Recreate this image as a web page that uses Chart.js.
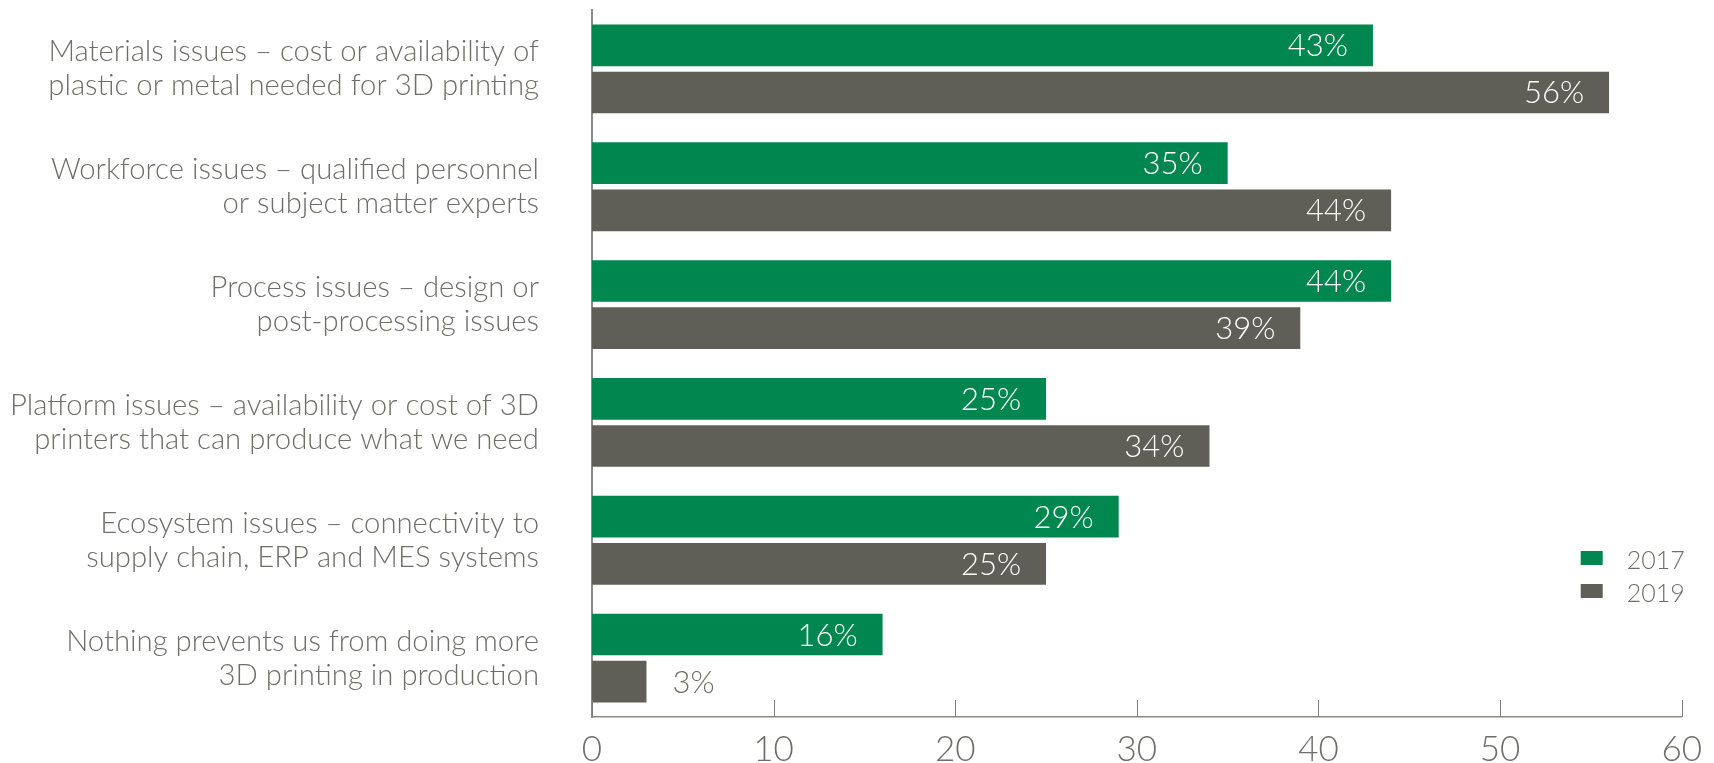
<!DOCTYPE html>
<html>
<head>
<meta charset="utf-8">
<script src="https://cdn.jsdelivr.net/npm/chart.js@4.4.1/dist/chart.umd.min.js"></script>
<style>
  html, body { margin: 0; padding: 0; background: #fff; }
  #wrap { width: 1714px; height: 763px; position: relative; }
</style>
</head>
<body>
<div id="wrap"><canvas id="chart"></canvas></div>
<script>
// Barriers to more 3D printing in production, share of respondents
var categories = [
  ["Materials issues – cost or availability of", "plastic or metal needed for 3D printing"],
  ["Workforce issues – qualified personnel", "or subject matter experts"],
  ["Process issues – design or", "post-processing issues"],
  ["Platform issues – availability or cost of 3D", "printers that can produce what we need"],
  ["Ecosystem issues – connectivity to", "supply chain, ERP and MES systems"],
  ["Nothing prevents us from doing more", "3D printing in production"]
];
var seriesNames = ["2017", "2019"];
var values2017 = [43, 35, 44, 25, 29, 16];
var values2019 = [56, 44, 39, 34, 25, 3];
var xTickValues = [0, 10, 20, 30, 40, 50, 60];

var GREEN = "#00874f";
var GREY = "#5f5f58";
var TEXT = "#6e6e6b";
var AXIS = "#8a8a86";
var FONT = "Lato, 'Open Sans', sans-serif";

// short tick marks pointing up from the bottom axis
var upTicks = {
  id: "upTicks",
  afterDraw: function(chart) {
    var ctx = chart.ctx, x = chart.scales.x, bottom = chart.chartArea.bottom;
    ctx.save();
    ctx.strokeStyle = "#7c7c78";
    ctx.lineWidth = 1;
    xTickValues.forEach(function(v) {
      var px = Math.round(x.getPixelForValue(v)) + 0.5;
      ctx.beginPath();
      ctx.moveTo(px, bottom);
      ctx.lineTo(px, bottom - 17);
      ctx.stroke();
    });
    ctx.restore();
  }
};

// percentage labels at the end of each bar
var valueLabels = {
  id: "valueLabels",
  afterDatasetsDraw: function(chart) {
    var ctx = chart.ctx;
    ctx.save();
    ctx.font = "300 31px " + FONT;
    ctx.textBaseline = "middle";
    chart.data.datasets.forEach(function(ds, i) {
      chart.getDatasetMeta(i).data.forEach(function(bar, j) {
        var txt = ds.data[j] + "%";
        var w = ctx.measureText(txt).width;
        if (bar.x - bar.base > w + 40) {
          ctx.fillStyle = "#ffffff";
          ctx.textAlign = "right";
          ctx.fillText(txt, bar.x - 25, bar.y + 1);
        } else {
          ctx.fillStyle = TEXT;
          ctx.textAlign = "left";
          ctx.fillText(txt, bar.x + 26, bar.y + 1);
        }
      });
    });
    ctx.restore();
  }
};

// legend in the lower right corner of the plot
var cornerLegend = {
  id: "cornerLegend",
  afterDraw: function(chart) {
    var ctx = chart.ctx, area = chart.chartArea;
    ctx.save();
    ctx.font = "300 25px " + FONT;
    ctx.textBaseline = "middle";
    ctx.textAlign = "left";
    chart.data.datasets.forEach(function(ds, i) {
      var cy = area.bottom - 159 + i * 33;
      ctx.fillStyle = ds.backgroundColor;
      ctx.fillRect(area.right - 101, cy - 7, 22, 14);
      ctx.fillStyle = TEXT;
      ctx.fillText(ds.label, area.right - 55, cy + 3);
    });
    ctx.restore();
  }
};

new Chart(document.getElementById("chart"), {
  type: "bar",
  data: {
    labels: categories,
    datasets: [
      { label: seriesNames[0], data: values2017, backgroundColor: GREEN },
      { label: seriesNames[1], data: values2019, backgroundColor: GREY }
    ]
  },
  options: {
    indexAxis: "y",
    responsive: true,
    maintainAspectRatio: false,
    animation: false,
    layout: { padding: { top: 10, right: 27, bottom: 0, left: 0 } },
    datasets: {
      bar: { categoryPercentage: 0.8, barPercentage: 0.883 }
    },
    plugins: {
      legend: { display: false },
      tooltip: { enabled: false }
    },
    scales: {
      x: {
        min: 0,
        max: 60,
        afterBuildTicks: function(s) {
          s.ticks = xTickValues.map(function(v) { return { value: v }; });
        },
        afterFit: function(s) { s.height = 46; },
        grid: { display: false, drawTicks: false },
        border: { display: true, color: AXIS, width: 1.5 },
        ticks: {
          padding: 12,
          color: TEXT,
          font: { family: FONT, size: 35, weight: 300 }
        }
      },
      y: {
        afterFit: function(s) {
          s.width = 592;
          s.paddingTop = 0;
          s.paddingBottom = 0;
        },
        grid: { display: false, drawTicks: false },
        border: { display: true, color: AXIS, width: 2 },
        ticks: {
          padding: 53,
          color: TEXT,
          crossAlign: "near",
          font: { family: FONT, size: 29.3, weight: 300, lineHeight: 1.16 }
        }
      }
    }
  },
  plugins: [upTicks, valueLabels, cornerLegend]
});
</script>
</body>
</html>
